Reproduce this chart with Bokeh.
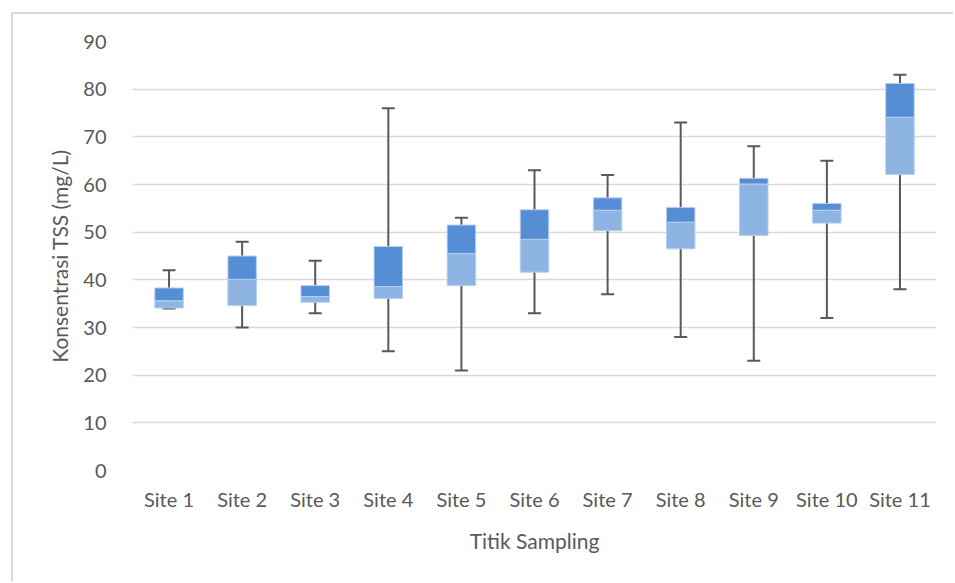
from bokeh.plotting import figure
from bokeh.models import ColumnDataSource, FactorRange, Range1d, Whisker, TeeHead, FixedTicker
from bokeh.embed import file_html
from bokeh.resources import INLINE

sites = ["Site 1", "Site 2", "Site 3", "Site 4", "Site 5", "Site 6",
         "Site 7", "Site 8", "Site 9", "Site 10", "Site 11"]
mins = [34, 30, 33, 25, 21, 33, 37, 28, 23, 32, 38]
q1 = [34.1, 34.6, 35.3, 36.1, 38.8, 41.6, 50.3, 46.5, 49.3, 51.9, 62.1]
medians = [35.6, 40.1, 36.5, 38.6, 45.5, 48.5, 54.6, 52.1, 60.1, 54.6, 74.1]
q3 = [38.3, 45.0, 38.8, 47.0, 51.5, 54.7, 57.2, 55.2, 61.3, 56.0, 81.2]
maxs = [42, 48, 44, 76, 53, 63, 62, 73, 68, 65, 83]
y_ticks = [0, 10, 20, 30, 40, 50, 60, 70, 80, 90]

src = ColumnDataSource(dict(site=sites, lo=mins, q1=q1, med=medians, q3=q3, hi=maxs))

FONT = "Lato"
TXT = "#595959"

OX, OY = 11, 12  # offset of the chart area border
p = figure(x_range=FactorRange(*sites), y_range=Range1d(0, 90),
           width=955 - OX - 2, height=583 - OY - 2, output_backend="svg", toolbar_location=None,
           min_border_left=132 - OX - 2, min_border_right=19, min_border_top=41 - OY - 2,
           min_border_bottom=113)
p.styles = {"margin-left": f"{OX}px", "margin-top": f"{OY}px",
            "border-left": "2px solid #D9D9D9", "border-top": "2px solid #D9D9D9"}
p.outline_line_color = None
p.xgrid.grid_line_color = None
p.ygrid.grid_line_color = "#D9D9D9"
p.ygrid.grid_line_width = 1.5
p.yaxis.ticker = FixedTicker(ticks=y_ticks)

for ax in (p.xaxis[0], p.yaxis[0]):
    ax.axis_line_color = None
    ax.major_tick_line_color = None
    ax.minor_tick_line_color = None
    ax.major_label_text_font = FONT
    ax.major_label_text_font_size = "20px"
    ax.major_label_text_color = TXT
    ax.axis_label_text_font = FONT
    ax.axis_label_text_font_size = "21px"
    ax.axis_label_text_color = TXT
    ax.axis_label_text_font_style = "normal"

p.yaxis.axis_label = "Konsentrasi TSS (mg/L)"
p.xaxis.axis_label = "Titik Sampling"
p.yaxis.major_label_standoff = 20
p.yaxis.axis_label_standoff = 8
p.xaxis.major_label_standoff = 10
p.xaxis.axis_label_standoff = 14

w = Whisker(base="site", upper="hi", lower="lo", source=src,
            line_color="#595959", line_width=2, level="underlay",
            upper_head=TeeHead(size=13, line_color="#595959", line_width=2),
            lower_head=TeeHead(size=13, line_color="#595959", line_width=2))
p.add_layout(w)

p.vbar(x="site", bottom="q1", top="med", width=0.39, source=src,
       fill_color="#8EB4E3", line_color="#B7CFEF", line_width=1)
p.vbar(x="site", bottom="med", top="q3", width=0.39, source=src,
       fill_color="#558ED5", line_color="#B7CFEF", line_width=1)

open("out.html", "w").write(file_html(p, INLINE))
